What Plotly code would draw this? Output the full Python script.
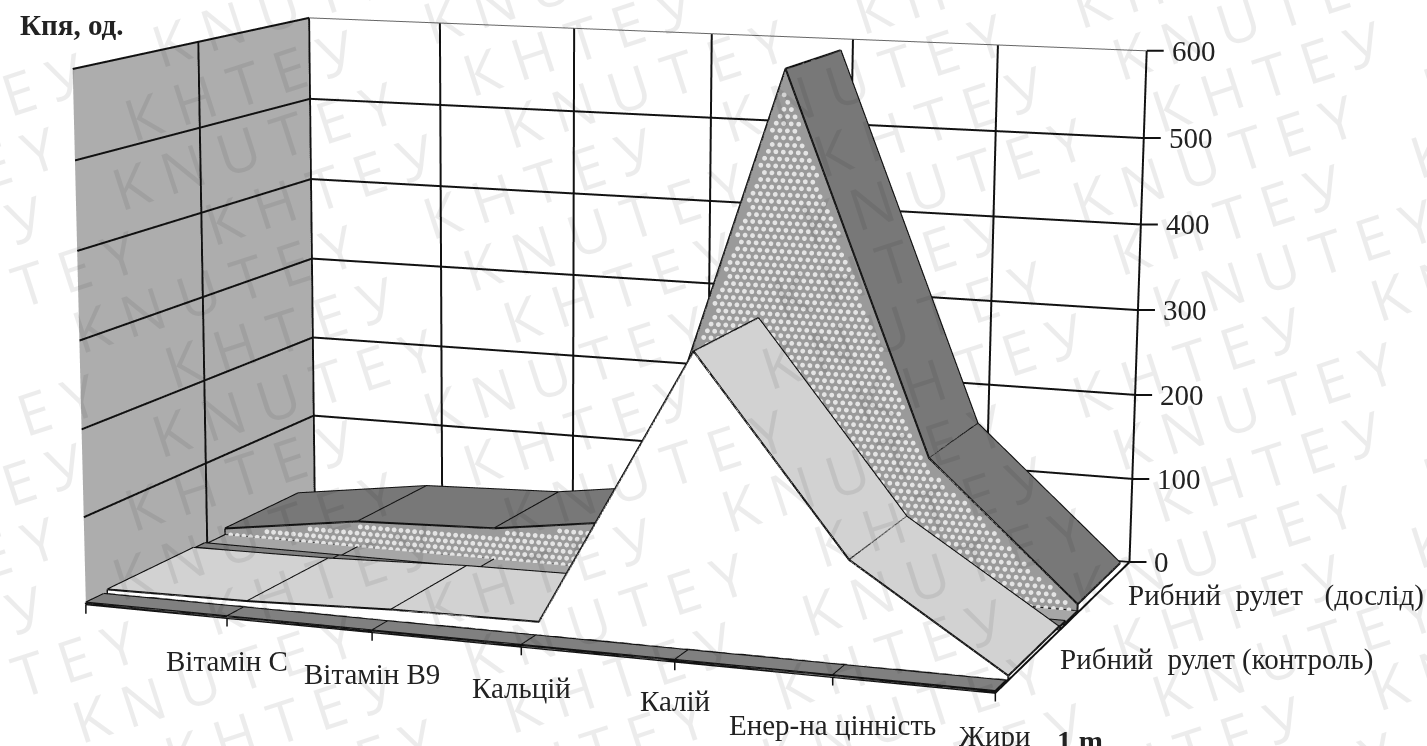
import numpy as np
import plotly.graph_objects as go

W, H = 1427, 746
categories = ["", "Вітамін С", "Вітамін В9", "Кальцій", "Калій", "Енер-на цінність", "Жири"]
series_names = ["1 m", "Рибний  рулет (контроль)", "Рибний  рулет   (дослід)"]
dosl = [10, 33, 39, 62, 592, 163, 10]
contr = [5, 7, 13, 15, 325, 114, 5]
base = [2, 2, 2, 2, 2, 2, 2]
strip_a = [4, 4, 4, 4, 4, 4, 4]
strip_b = [2, 2, 2, 2, 2, 2, 2]
z_ticks = [0, 100, 200, 300, 400, 500, 600]
label_dy = [43, 42, 41, 39, 48, 43]
watermarks = ["K N U T E Y", "К Н Т Е У"]

# camera / page geometry
EYE = (5.0007, -13.9000, 2.5811); CENTER = (0.8501, -2.8344, -0.0056); UP = (-0.0921, 0.2386, 1.0)
ASPECT = (3.5259, 2.1016, 2.0203)
W2, H2, LEFT, TOP = 1719, 3258, -291, -1137

xs = np.arange(len(categories), dtype=float)
Y = [(0.0, 0.07), (0.085, 0.44), (0.45, 0.49), (0.49, 0.58), (0.58, 0.92)]
LW = 4
INK = "#111"
LIGHT = dict(ambient=1, diffuse=0, specular=0, roughness=1, fresnel=0)


def band(vals, y0, y1, top_c, front):
    n = len(vals)
    vx, vy, vz, I, J, K, fc = [], [], [], [], [], [], []
    for i in range(n):
        vx += [xs[i]] * 4
        vy += [y0, y0, y1, y1]
        vz += [0, vals[i], vals[i], 0]
    for i in range(n - 1):
        a = 4 * i
        b = a + 4
        for t in [(a, b, a + 1), (b, b + 1, a + 1)]:
            I.append(t[0]); J.append(t[1]); K.append(t[2]); fc.append(front)
        for t in [(a + 1, b + 1, a + 2), (b + 1, b + 2, a + 2)]:
            I.append(t[0]); J.append(t[1]); K.append(t[2]); fc.append(top_c)
    mesh = go.Mesh3d(x=vx, y=vy, z=vz, i=I, j=J, k=K, facecolor=fc, flatshading=True,
                     lighting=LIGHT, hoverinfo="skip", showscale=False)
    lx, ly, lz = [], [], []
    lx += list(xs) + [None]; ly += [y0] * n + [None]; lz += list(vals) + [None]
    lx += list(xs) + [None]; ly += [y0] * n + [None]; lz += [0] * n + [None]
    lx += list(xs) + [None]; ly += [y1] * n + [None]; lz += list(vals) + [None]
    for i in range(n):
        lx += [xs[i], xs[i], None]; ly += [y0, y1, None]; lz += [vals[i], vals[i], None]
    lx += [xs[0], xs[0], None, xs[-1], xs[-1], None]
    ly += [y0, y0, None, y0, y0, None]
    lz += [0, vals[0], None, 0, vals[-1], None]
    outline = go.Scatter3d(x=lx, y=ly, z=lz, mode="lines", line=dict(color=INK, width=LW),
                           hoverinfo="skip", showlegend=False)
    return [mesh, outline]


data = []
gx, gy, gz = [], [], []
for z in z_ticks[:-1]:
    gx += [0, 0, 6, None]; gy += [0, 1, 1, None]; gz += [z, z, z, None]
gx += [0, 0, None]; gy += [0, 1, None]; gz += [600, 600, None]
for x in xs:
    gx += [x, x, None]; gy += [1, 1, None]; gz += [0, 600, None]
gx += [0, 0, None]; gy += [0.5, 0.5, None]; gz += [0, 600, None]
gx += [0, 6, None, 6, 6, None]; gy += [0, 0, None, 0, 1, None]; gz += [0, 0, None, 0, 0, None]
data.append(go.Scatter3d(x=gx, y=gy, z=gz, mode="lines", line=dict(color=INK, width=LW), hoverinfo="skip", showlegend=False))
data.append(go.Scatter3d(x=[0, 6], y=[1, 1], z=[600, 600], mode="lines", line=dict(color="#666", width=2), hoverinfo="skip", showlegend=False))

data += band(dosl, Y[4][0], Y[4][1], "#787878", "#9a9a9a")
# dotted fill of the front face of the back series
dx, dz = [], []
for r, zv in enumerate(np.arange(3, 600, 8.0)):
    for xv in np.arange(0.02 if r % 2 else 0.045, 6, 0.05):
        if zv + 5 < min(np.interp(xv - 0.035, xs, dosl, left=0), np.interp(xv, xs, dosl), np.interp(xv + 0.035, xs, dosl, right=0)):
            dx.append(xv); dz.append(zv)
data.append(go.Scatter3d(x=dx, y=[Y[4][0] - 0.002] * len(dx), z=dz, mode="markers",
                         marker=dict(size=2.8, color="#e4e4e4", line=dict(width=0)), hoverinfo="skip", showlegend=False))
data += band(strip_b, Y[3][0], Y[3][1], "#a6a6a6", "#a6a6a6")
data += band(strip_a, Y[2][0], Y[2][1], "#808080", "#808080")
data += band(contr, Y[1][0], Y[1][1], "#d2d2d2", "#ffffff")
data += band(base, Y[0][0], Y[0][1], "#808080", "#808080")

ax_common = dict(showspikes=False, title=dict(text=""), zeroline=False, showline=False, showgrid=False,
                 showbackground=True, showticklabels=False, ticks="")
font = dict(family="Liberation Serif", size=29, color="#222")
scene_ann = [dict(x=0, y=0, z=0, text=" ", showarrow=True, arrowhead=0, arrowwidth=1.5, arrowcolor=INK, ax=0, ay=27, font=font)]
k = 0
for i, c in enumerate(categories):
    if c:
        scene_ann.append(dict(x=xs[i], y=0, z=0, text=c, showarrow=True, arrowhead=0, arrowwidth=1.5, arrowcolor=INK,
                              ax=0, ay=label_dy[k], startstandoff=label_dy[k] - 26, font=font))
        k += 1
for z in z_ticks:
    scene_ann.append(dict(x=6, y=1, z=z, text=str(z), showarrow=True, arrowhead=0, arrowwidth=2, arrowcolor=INK,
                          ax=23, ay=0, xanchor="left", startstandoff=6, font=font))
scene_ann.append(dict(x=6, y=0.97, z=0, text=series_names[2], showarrow=False, font=font, xanchor="left", yshift=-30, xshift=0))
scene_ann.append(dict(x=6, y=0.44, z=0, text=series_names[1], showarrow=False, font=font, xanchor="left", yshift=-28, xshift=-1))
scene_ann.append(dict(x=6, y=0.0, z=0, text="<b>%s</b>" % series_names[0], showarrow=False, font=font, xanchor="left", yshift=-48, xshift=60))


def pap(px, py):
    return (px - LEFT) / W2, 1 - (py - TOP) / H2


annots = []
slope = 0.32
for r in range(-1, 22):
    yc = -70 + 65 * r
    s = watermarks[r % 2]
    row = ("     ".join([s, watermarks[(r + 1) % 2]] * 3))
    px, py = 713 + 40 * (r % 3), yc - slope * 40 * (r % 3)
    ax_, ay_ = pap(px, py)
    annots.append(dict(text=row, xref="paper", yref="paper", x=ax_, y=ay_, xanchor="center", yanchor="middle",
                       showarrow=False, textangle=-18, font=dict(family="Open Sans", size=58, color="rgba(0,0,0,0.075)")))
a0 = pap(18, 25)
annots.append(dict(text="<b>Кпя, од.</b>", xref="paper", yref="paper", x=a0[0], y=a0[1], xanchor="left", yanchor="middle",
                   showarrow=False, font=dict(family="Liberation Serif", size=29, color="#222")))

fig = go.Figure(data)
fig.update_layout(
    width=W2, height=H2, autosize=False, margin=dict(l=0, r=0, t=0, b=0), paper_bgcolor="white", showlegend=False,
    scene=dict(
        domain=dict(x=[0, 1], y=[0, 1]), aspectmode="manual",
        aspectratio=dict(x=ASPECT[0], y=ASPECT[1], z=ASPECT[2]),
        camera=dict(eye=dict(x=EYE[0], y=EYE[1], z=EYE[2]), center=dict(x=CENTER[0], y=CENTER[1], z=CENTER[2]),
                    up=dict(x=UP[0], y=UP[1], z=UP[2]), projection=dict(type="perspective")),
        xaxis=dict(ax_common, range=[0, 6], backgroundcolor="#adadad"),
        yaxis=dict(ax_common, range=[0, 1], backgroundcolor="white"),
        zaxis=dict(ax_common, range=[0, 600], backgroundcolor="white"),
        annotations=scene_ann),
    annotations=annots,
)
ps = ("document.body.style.margin='0';document.documentElement.style.overflow='hidden';document.body.style.overflow='hidden';"
      "var g=document.getElementById('{plot_id}');g.style.position='absolute';g.style.left='%dpx';g.style.top='%dpx';" % (LEFT, TOP))
fig.write_html("out.html", config={"displayModeBar": False}, post_script=ps)
